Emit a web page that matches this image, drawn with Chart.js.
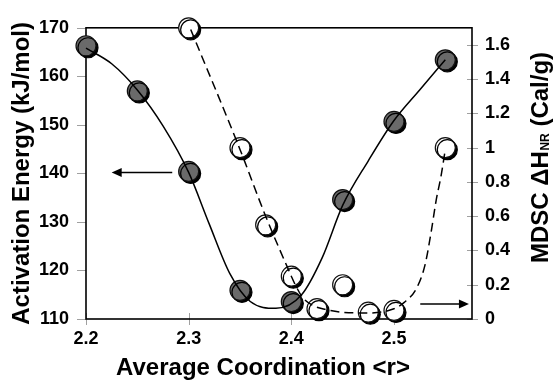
<!DOCTYPE html>
<html>
<head>
<meta charset="utf-8">
<script src="https://cdn.jsdelivr.net/npm/chart.js@4/dist/chart.umd.min.js"></script>
<style>
  html, body { margin: 0; padding: 0; background: #fff; }
  #wrap { width: 553px; height: 384px; }
</style>
</head>
<body>
<div id="wrap"><canvas id="chart" width="553" height="384"></canvas></div>
<script>
// Measured activation energy (left axis) vs average coordination
const coordination = [2.2, 2.25, 2.3, 2.35, 2.4, 2.45, 2.5, 2.55];
const activationEnergy = [166.3, 157.0, 140.4, 115.9, 113.6, 134.6, 150.7, 163.4];

// Non-reversing enthalpy from MDSC (right axis)
const mdscCoordination = [2.3, 2.35, 2.375, 2.4, 2.425, 2.45, 2.475, 2.5, 2.55];
const mdscEnthalpy = [1.70, 1.0, 0.55, 0.25, 0.06, 0.20, 0.04, 0.05, 1.0];

// Guide curve through the activation energy data
const energyCurveX = [2.2, 2.225, 2.25, 2.275, 2.3, 2.32, 2.34, 2.36, 2.385, 2.41, 2.43, 2.45, 2.475, 2.5, 2.525, 2.55];
const energyCurveY = [165.8, 162.6, 157.2, 149.8, 140.2, 129.6, 119.4, 113.6, 112.2, 115.0, 122.6, 133.4, 142.6, 150.9, 157.2, 163.4];

// Guide curve through the enthalpy data
const enthalpyCurveX = [2.302, 2.35, 2.375, 2.4, 2.403, 2.411, 2.421, 2.434, 2.447, 2.475, 2.5, 2.51, 2.522, 2.53, 2.536, 2.541, 2.546, 2.55];
const enthalpyCurveY = [1.69, 0.99, 0.60, 0.25, 0.21, 0.126, 0.079, 0.055, 0.041, 0.035, 0.06, 0.097, 0.18, 0.31, 0.50, 0.69, 0.84, 0.99];

// Axis ticks and labels
const xTickValues = [2.2, 2.3, 2.4, 2.5];
const xTickLabels = ['2.2', '2.3', '2.4', '2.5'];
const energyTickValues = [110, 120, 130, 140, 150, 160, 170];
const energyTickLabels = ['110', '120', '130', '140', '150', '160', '170'];
const enthalpyTickValues = [0, 0.2, 0.4, 0.6, 0.8, 1.0, 1.2, 1.4, 1.6];
const enthalpyTickLabels = ['0', '0.2', '0.4', '0.6', '0.8', '1', '1.2', '1.4', '1.6'];

// Arrows pointing each series to its axis: [from x, to x, level]
const energyArrow = [2.284, 2.225, 140.2];
const enthalpyArrow = [2.5256, 2.573, 0.088];

// Axis titles
const xTitle = 'Average Coordination <r>';
const energyTitle = 'Activation Energy (kJ/mol)';
const enthalpyTitleMain = 'MDSC \u0394H';
const enthalpyTitleSub = 'NR';
const enthalpyTitleTail = ' (Cal/g)';

const FONT = '"Liberation Sans", Arial, Helvetica, sans-serif';

const pairs = (xs, ys) => xs.map((x, i) => ({ x: x, y: ys[i] }));

function useTicks(values, labels) {
  return {
    afterBuildTicks: s => { s.ticks = values.map(v => ({ value: v })); },
    callback: (v, i) => labels[i]
  };
}

// Drop shadow behind the round markers
const markerShadow = {
  id: 'markerShadow',
  beforeDatasetDraw(chart, args) {
    const ds = chart.data.datasets[args.index];
    if (!ds.shadow) return;
    const ctx = chart.ctx;
    ctx.save();
    ctx.shadowColor = 'rgba(0,0,0,1)';
    ctx.shadowOffsetX = 2;
    ctx.shadowOffsetY = 2;
    ctx.shadowBlur = 0;
  },
  afterDatasetDraw(chart, args) {
    const ds = chart.data.datasets[args.index];
    if (!ds.shadow) return;
    chart.ctx.restore();
  }
};

// Frame, tick marks, arrows and extra axis titles
const decorations = {
  id: 'decorations',
  beforeDatasetsDraw(chart) {
    const { ctx, chartArea: a, scales } = chart;
    ctx.save();
    // tick marks
    ctx.strokeStyle = '#a0a0a0';
    ctx.lineWidth = 1;
    ctx.beginPath();
    energyTickValues.forEach(v => {
      const y = Math.round(scales.y.getPixelForValue(v)) + 0.5;
      ctx.moveTo(a.left - 9, y); ctx.lineTo(a.left, y);
    });
    enthalpyTickValues.forEach(v => {
      const y = Math.round(scales.y1.getPixelForValue(v)) + 0.5;
      ctx.moveTo(a.right - 5, y); ctx.lineTo(a.right + 6, y);
    });
    xTickValues.forEach(v => {
      const x = Math.round(scales.x.getPixelForValue(v)) + 0.5;
      ctx.moveTo(x, a.bottom - 6); ctx.lineTo(x, a.bottom + 6);
    });
    ctx.stroke();
    // frame
    ctx.strokeStyle = '#000';
    ctx.lineWidth = 1.6;
    ctx.strokeRect(a.left, a.top, a.right - a.left, a.bottom - a.top);
    // arrows
    const drawArrow = (x0, x1, y) => {
      const dir = Math.sign(x1 - x0);
      ctx.lineWidth = 1.6;
      ctx.beginPath();
      ctx.moveTo(x0, y); ctx.lineTo(x1 - dir * 8, y);
      ctx.stroke();
      ctx.beginPath();
      ctx.moveTo(x1, y);
      ctx.lineTo(x1 - dir * 10, y - 4.5);
      ctx.lineTo(x1 - dir * 10, y + 4.5);
      ctx.closePath();
      ctx.fillStyle = '#000';
      ctx.fill();
    };
    drawArrow(scales.x.getPixelForValue(energyArrow[0]), scales.x.getPixelForValue(energyArrow[1]), scales.y.getPixelForValue(energyArrow[2]));
    drawArrow(scales.x.getPixelForValue(enthalpyArrow[0]), scales.x.getPixelForValue(enthalpyArrow[1]), scales.y1.getPixelForValue(enthalpyArrow[2]));
    ctx.restore();
  },
  afterDraw(chart) {
    const { ctx } = chart;
    ctx.save();
    ctx.fillStyle = '#000';
    // bottom title
    ctx.font = 'bold 24px ' + FONT;
    ctx.textAlign = 'center';
    ctx.textBaseline = 'alphabetic';
    ctx.fillText(xTitle, 263, 375);
    // right title with subscript
    ctx.translate(548, 263);
    ctx.rotate(-Math.PI / 2);
    ctx.textAlign = 'left';
    ctx.font = 'bold 24px ' + FONT;
    ctx.fillText(enthalpyTitleMain, 0, 0);
    let w = ctx.measureText(enthalpyTitleMain).width + 0.5;
    ctx.font = 'bold 12px ' + FONT;
    ctx.fillText(enthalpyTitleSub, w, 1);
    w += ctx.measureText(enthalpyTitleSub).width;
    ctx.font = 'bold 24px ' + FONT;
    ctx.fillText(enthalpyTitleTail, w, 0);
    ctx.restore();
  }
};

const tickFont = { family: FONT, size: 18, weight: 'bold' };

new Chart(document.getElementById('chart'), {
  type: 'scatter',
  data: {
    datasets: [
      {
        data: pairs(energyCurveX, energyCurveY),
        yAxisID: 'y', showLine: true, order: 0,
        borderColor: '#000', borderWidth: 1.5, pointRadius: 0,
        cubicInterpolationMode: 'monotone', fill: false, clip: false
      },
      {
        data: pairs(enthalpyCurveX, enthalpyCurveY),
        yAxisID: 'y1', showLine: true, order: 0,
        borderColor: '#000', borderWidth: 1.5, borderDash: [9, 5], pointRadius: 0,
        cubicInterpolationMode: 'monotone', fill: false, clip: false
      },
      {
        data: pairs(coordination, activationEnergy),
        yAxisID: 'y', order: 1, shadow: true,
        backgroundColor: '#6a6a6a', borderColor: '#111', borderWidth: 1.2,
        pointRadius: 10, clip: false
      },
      {
        data: pairs(mdscCoordination, mdscEnthalpy),
        yAxisID: 'y1', order: 1, shadow: true,
        backgroundColor: '#fff', borderColor: '#111', borderWidth: 1.2,
        pointRadius: 10, clip: false
      }
    ]
  },
  options: {
    responsive: false,
    animation: false,
    devicePixelRatio: 1,
    layout: { padding: { top: 17, left: 0, right: 0, bottom: 0 } },
    plugins: { legend: { display: false }, tooltip: { enabled: false } },
    scales: {
      x: {
        type: 'linear', position: 'bottom', min: 2.2, max: 2.576,
        afterBuildTicks: useTicks(xTickValues, xTickLabels).afterBuildTicks,
        afterFit: s => { s.height = 65; },
        grid: { drawOnChartArea: false, drawTicks: false },
        border: { display: false },
        ticks: { callback: useTicks(xTickValues, xTickLabels).callback, font: tickFont, color: '#000', padding: 9, maxRotation: 0, autoSkip: false }
      },
      y: {
        type: 'linear', position: 'left', min: 110, max: 170,
        afterBuildTicks: useTicks(energyTickValues, energyTickLabels).afterBuildTicks,
        afterFit: s => { s.width = 86; },
        grid: { drawOnChartArea: false, drawTicks: false },
        border: { display: false },
        ticks: { callback: useTicks(energyTickValues, energyTickLabels).callback, font: tickFont, color: '#000', padding: 17, autoSkip: false },
        title: {
          display: true, text: energyTitle, color: '#000',
          font: { family: FONT, size: 24, weight: 'bold' },
          padding: { top: 8, bottom: 0 }
        }
      },
      y1: {
        type: 'linear', position: 'right', min: 0, max: 1.7,
        afterBuildTicks: useTicks(enthalpyTickValues, enthalpyTickLabels).afterBuildTicks,
        afterFit: s => { s.width = 81; },
        grid: { drawOnChartArea: false, drawTicks: false },
        border: { display: false },
        ticks: { callback: useTicks(enthalpyTickValues, enthalpyTickLabels).callback, font: tickFont, color: '#000', padding: 13, autoSkip: false }
      }
    }
  },
  plugins: [markerShadow, decorations]
});
</script>
</body>
</html>
